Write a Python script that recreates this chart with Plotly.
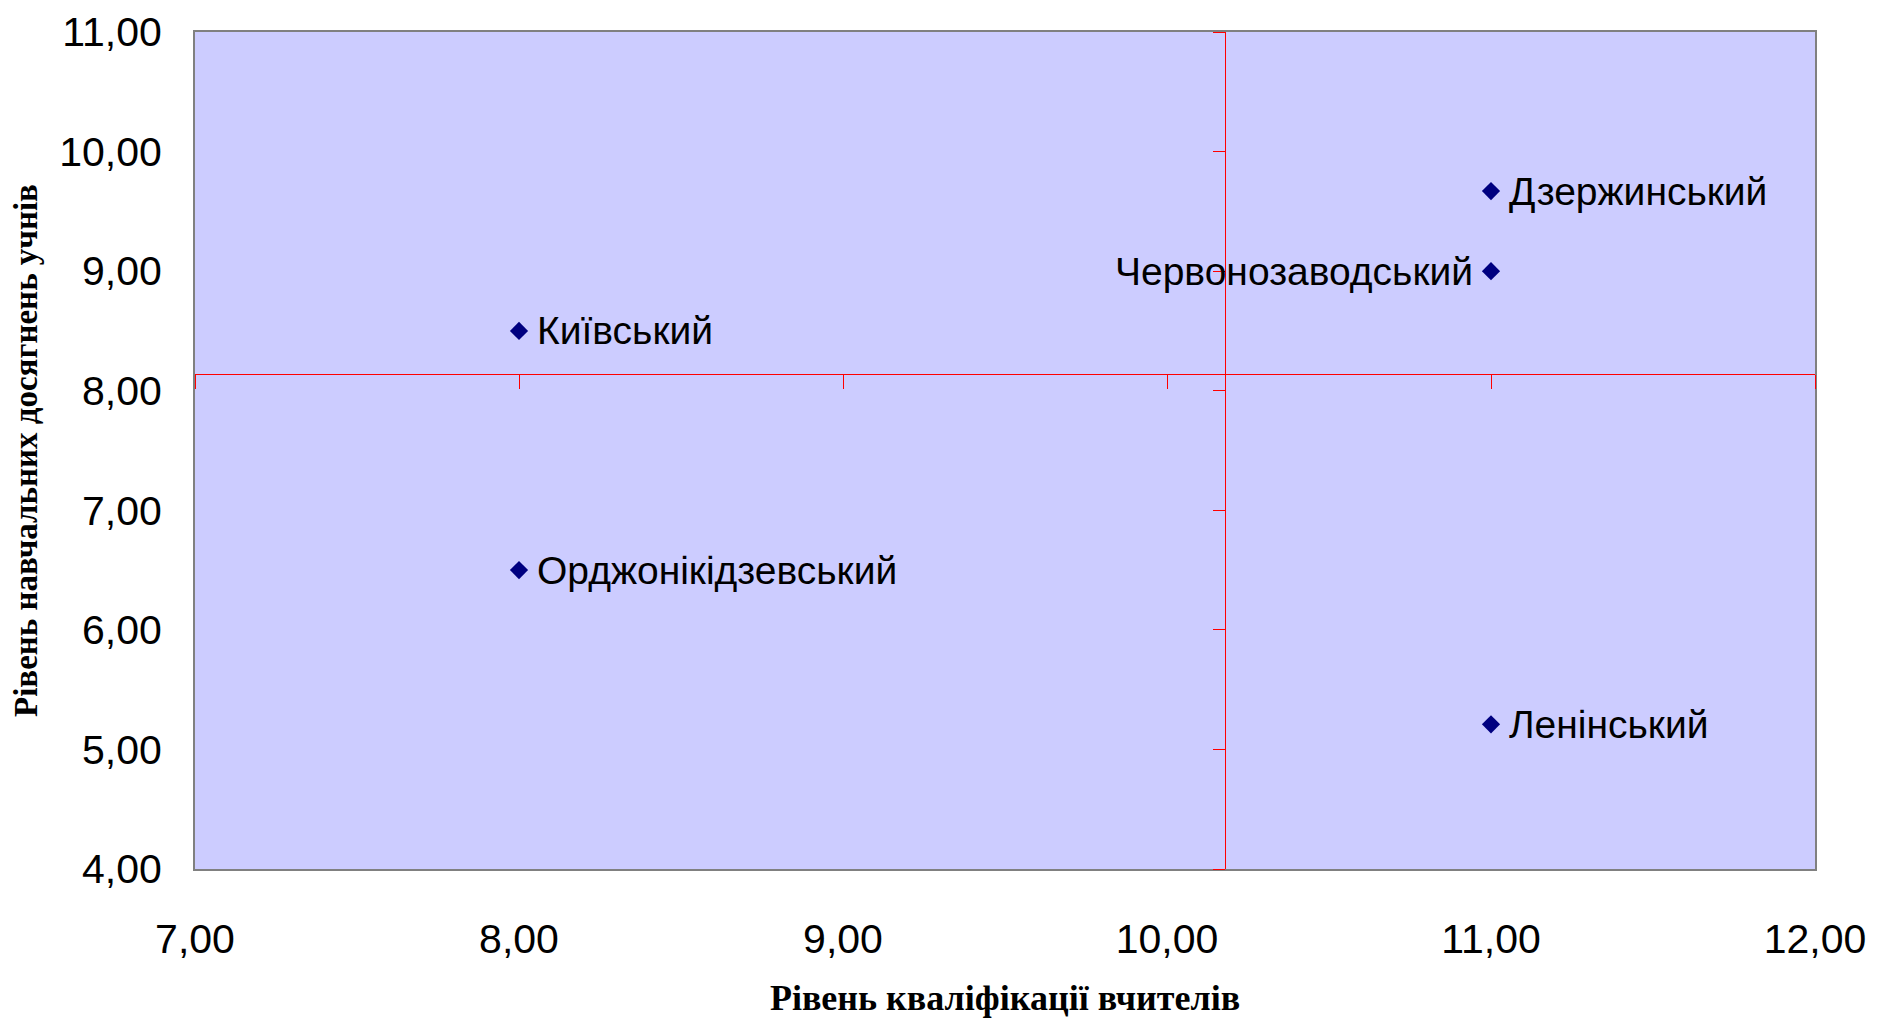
import plotly.graph_objects as go

# Data
districts = ["Дзержинський", "Червонозаводський", "Київський", "Орджонікідзевський", "Ленінський"]
teacher_level = [11.0, 11.0, 8.0, 8.0, 11.0]
student_level = [9.67, 9.0, 8.5, 6.5, 5.21]
label_side = ["right", "left", "right", "right", "right"]

x_range = [7.0, 12.0]
y_range = [4.0, 11.0]
x_cross = 10.18   # where the vertical (red) axis crosses
y_cross = 8.14    # where the horizontal (red) axis crosses

x_title = "Рівень кваліфікації вчителів"
y_title = "Рівень навчальних досягнень учнів"

fig = go.Figure()

fig.add_trace(go.Scatter(
    x=teacher_level, y=student_level, mode="markers",
    marker=dict(symbol="diamond", size=14, color="#000080"),
    hoverinfo="skip", showlegend=False,
))

# invisible trace to activate the crossing axes
fig.add_trace(go.Scatter(
    x=[x_range[0]], y=[y_range[0]], xaxis="x2", yaxis="y2",
    mode="markers", marker=dict(opacity=0), hoverinfo="skip", showlegend=False,
))

for name, xv, yv, side in zip(districts, teacher_level, student_level, label_side):
    fig.add_annotation(
        x=xv, y=yv, text=name, showarrow=False,
        xanchor="left" if side == "right" else "right",
        xshift=16 if side == "right" else -16,
        yanchor="middle",
        font=dict(family="Liberation Sans, Arial", size=39, color="black"),
    )

tick_font = dict(family="Liberation Sans, Arial", size=41, color="black")

fig.update_layout(
    width=1874, height=1010,
    margin=dict(l=187, r=67, t=24, b=149, autoexpand=False),
    paper_bgcolor="white",
    plot_bgcolor="#CCCCFF",
    separators=", ",
    xaxis=dict(
        range=x_range, dtick=1, tickformat=".2f", showgrid=False, zeroline=False,
        showline=True, linecolor="#808080", linewidth=2, mirror=True,
        ticks="", tickfont=tick_font, ticklabelstandoff=33, automargin=False,
        ticklabeloverflow="allow",
        title=dict(text="<b>" + x_title + "</b>", standoff=27,
                   font=dict(family="Liberation Serif, Times New Roman", size=36, color="black")),
    ),
    yaxis=dict(
        range=y_range, dtick=1, tickformat=".2f", showgrid=False, zeroline=False,
        showline=True, linecolor="#808080", linewidth=2, mirror=True,
        ticks="", tickfont=tick_font, ticklabelstandoff=23, automargin=False,
        ticklabeloverflow="allow",
        title=dict(text="<b>" + y_title + "</b>", standoff=16,
                   font=dict(family="Liberation Serif, Times New Roman", size=33, color="black")),
    ),
    xaxis2=dict(
        overlaying="x", anchor="free",
        position=(y_cross - y_range[0]) / (y_range[1] - y_range[0]),
        range=x_range, dtick=1, showgrid=False, zeroline=False,
        showline=True, linecolor="red", linewidth=1,
        ticks="outside", ticklen=14, tickcolor="red", tickwidth=1,
        showticklabels=False, side="bottom", automargin=False,
    ),
    yaxis2=dict(
        overlaying="y", anchor="free",
        position=(x_cross - x_range[0]) / (x_range[1] - x_range[0]),
        range=y_range, dtick=1, showgrid=False, zeroline=False,
        showline=True, linecolor="red", linewidth=1,
        ticks="outside", ticklen=12, tickcolor="red", tickwidth=1,
        showticklabels=False, side="left", automargin=False,
    ),
)

fig.write_html("out.html")
